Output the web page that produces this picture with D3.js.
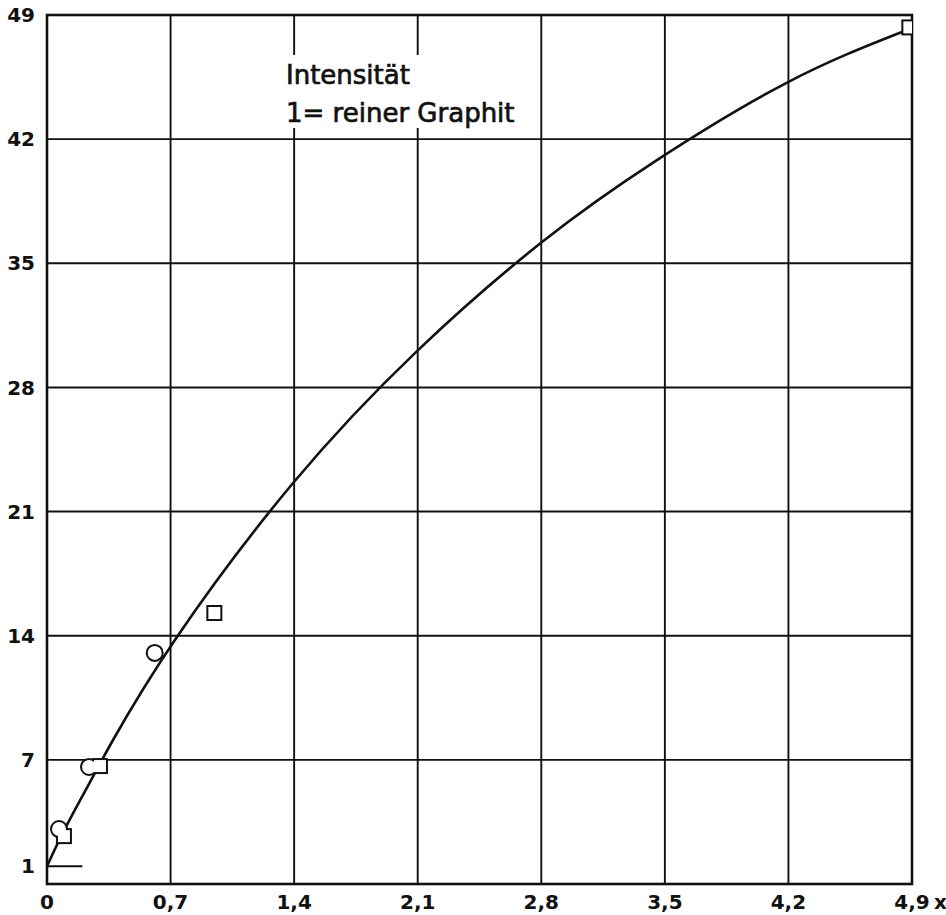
<!DOCTYPE html>
<html>
<head>
<meta charset="utf-8">
<script src="https://cdn.jsdelivr.net/npm/d3@7"></script>
<style>
  body { margin: 0; background: #fff; }
  text { font-family: "DejaVu Sans", sans-serif; fill: #111; }
</style>
</head>
<body>
<svg id="chart" width="946" height="915"></svg>
<script>
// values
const xTicks = [0, 0.7, 1.4, 2.1, 2.8, 3.5, 4.2, 4.9];
const yGrid = [7, 14, 21, 28, 35, 42, 49];
const yLabels = [1, 7, 14, 21, 28, 35, 42, 49];

const curveX = [0, 0.113, 0.272, 0.374, 0.736, 1.394, 2.096, 2.804, 3.455, 4.198, 4.843];
const curveY = [1, 3.33, 6.26, 8.12, 13.93, 22.61, 30.05, 36.20, 40.82, 45.22, 48.04];

const circleX = [0.068, 0.238, 0.61];
const circleY = [3.1, 6.6, 13.03];
const squareX = [0.096, 0.30, 0.948, 4.885];
const squareY = [2.7, 6.65, 15.28, 48.3];

const refX = [0, 0.2];   // short stub at "1 = reiner Graphit"
const refY = [1, 1];

const titleLines = ["Intensität", "1= reiner Graphit"];

const svg = d3.select("#chart");
const plotL = 47, plotR = 912, plotT = 15, plotB = 884;

const x = d3.scaleLinear().domain([0, 4.9]).range([plotL, plotR]);
const y = d3.scaleLinear().domain([0, 49]).range([plotB, plotT]);
const fmt = v => d3.format(".1~f")(v).replace(".", ",");

svg.append("clipPath").attr("id", "plotclip")
  .append("rect").attr("x", plotL).attr("y", plotT)
  .attr("width", plotR - plotL).attr("height", plotB - plotT);

// grid
const grid = svg.append("g").attr("stroke", "#111").attr("stroke-width", 1.9);
grid.selectAll("line.v").data(xTicks.slice(1, -1)).join("line").attr("class", "v")
  .attr("x1", d => x(d)).attr("x2", d => x(d))
  .attr("y1", plotT).attr("y2", plotB);
grid.selectAll("line.h").data(yGrid.slice(0, -1)).join("line").attr("class", "h")
  .attr("x1", plotL).attr("x2", plotR)
  .attr("y1", d => y(d)).attr("y2", d => y(d));

// white patch behind the caption
svg.append("rect")
  .attr("x", 282).attr("y", 55).attr("width", 240).attr("height", 73)
  .attr("fill", "#fff");

svg.append("g").selectAll("text").data(titleLines).join("text")
  .attr("x", 286).attr("y", (d, i) => 84 + i * 38)
  .attr("font-family", "'DejaVu Sans Condensed', 'DejaVu Sans', sans-serif")
  .attr("font-size", 26)
  .attr("stroke", "#111").attr("stroke-width", 0.7)
  .text(d => d);

// frame
svg.append("rect")
  .attr("x", plotL).attr("y", plotT)
  .attr("width", plotR - plotL).attr("height", plotB - plotT)
  .attr("fill", "none").attr("stroke", "#111").attr("stroke-width", 2.6);

// reference stub
svg.append("path")
  .datum(refX.map((d, i) => [d, refY[i]]))
  .attr("d", d3.line().x(d => x(d[0])).y(d => y(d[1])))
  .attr("fill", "none").attr("stroke", "#111").attr("stroke-width", 2);

// curve
const pts = curveX.map((d, i) => [d, curveY[i]]);
svg.append("path")
  .datum(pts)
  .attr("d", d3.line().x(d => x(d[0])).y(d => y(d[1])).curve(d3.curveNatural))
  .attr("fill", "none").attr("stroke", "#111").attr("stroke-width", 2.6);

// markers: outline layer then white fill layer, so touching marks merge
const circles = circleX.map((d, i) => [d, circleY[i]]);
const squares = squareX.map((d, i) => [d, squareY[i]]);
const r = 7, s = 12;
function markers(g) {
  g.selectAll("circle").data(circles).join("circle")
    .attr("cx", d => x(d[0])).attr("cy", d => y(d[1])).attr("r", r);
  g.selectAll("rect").data(squares).join("rect")
    .attr("x", d => x(d[0]) - s / 2).attr("y", d => y(d[1]) - s / 2)
    .attr("width", s).attr("height", s);
}
svg.append("g").attr("clip-path", "url(#plotclip)")
  .attr("fill", "#111").attr("stroke", "#111").attr("stroke-width", 4).call(markers);
svg.append("g").attr("clip-path", "url(#plotclip)")
  .attr("fill", "#fff").attr("stroke", "none").call(markers);

// axis labels
svg.append("g").selectAll("text").data(yLabels).join("text")
  .attr("x", 35).attr("y", d => y(d)).attr("dy", "0.36em")
  .attr("text-anchor", "end").attr("font-size", 20).attr("font-weight", "bold")
  .text(d => d);

svg.append("g").selectAll("text").data(xTicks).join("text")
  .attr("x", d => x(d)).attr("y", 909)
  .attr("text-anchor", "middle").attr("font-size", 20).attr("font-weight", "bold")
  .text(d => fmt(d));

svg.append("text")
  .attr("x", 934).attr("y", 909)
  .attr("font-size", 20).attr("font-weight", "bold")
  .text("x");
</script>
</body>
</html>
